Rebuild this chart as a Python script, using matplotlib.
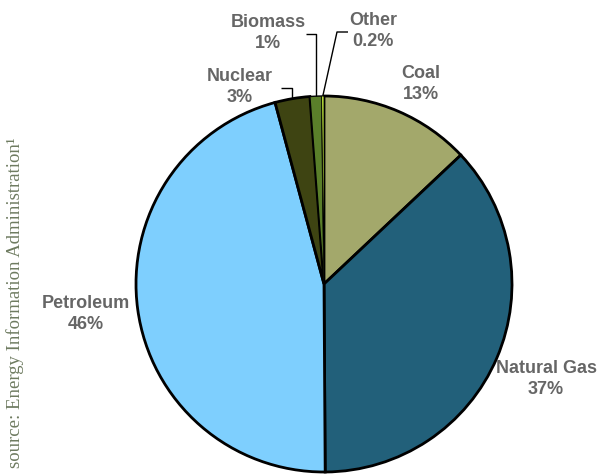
import numpy as np
import matplotlib
matplotlib.use("Agg")
import matplotlib.pyplot as plt

categories = ["Coal", "Natural Gas", "Petroleum", "Nuclear", "Biomass", "Other"]
values = [13, 37, 46, 3, 1, 0.2]
pct_labels = ["13%", "37%", "46%", "3%", "1%", "0.2%"]
colors = ["#A3A86B", "#22607A", "#7ECFFE", "#3E4412", "#5A7F2A", "#C8F040"]
source = "source: Energy Information Administration\u00b9"

W, H = 600, 474
CX, CY, R = 324, 284, 188

def px(x, y):
    return (x - CX) / R, (CY - y) / R

fig = plt.figure(figsize=(W / 100, H / 100), dpi=100)
ax = fig.add_axes([0, 0, 1, 1])
wedges, _ = ax.pie(values, colors=colors, startangle=90, counterclock=False,
                   radius=1.0,
                   wedgeprops=dict(edgecolor="black", linewidth=2))
wedges[4].set_linewidth(1.0)
wedges[5].set_linewidth(0.6)
ax.set_xlim(-CX / R, (W - CX) / R)
ax.set_ylim((CY - H) / R, CY / R)
ax.set_aspect("equal", adjustable="box")
ax.axis("off")

tcol = "#666666"
fkw = dict(family=["Liberation Sans", "DejaVu Sans"], fontsize=13, fontweight="bold",
           color=tcol, ha="center", va="center", linespacing=1.38)

# label anchor positions (pixels)
label_pos = {
    "Coal": (421, 84),
    "Natural Gas": (546, 379),
    "Petroleum": (86, 314),
    "Nuclear": (240, 87),
    "Biomass": (268, 33),
    "Other": (373, 31),
}
for cat, pl in zip(categories, pct_labels):
    x, y = px(*label_pos[cat])
    ax.text(x, y, f"{cat}\n{pl}", **fkw)

# leader lines for small slices
def edge_point(w):
    ang = np.deg2rad((w.theta1 + w.theta2) / 2)
    return np.cos(ang), np.sin(ang)

lkw = dict(color="black", linewidth=1, solid_capstyle="butt")
# Nuclear
ex, ey = edge_point(wedges[3])
_, y1 = px(0, 88)
x2, _ = px(281, 0)
ax.plot([ex, ex, x2], [ey, y1, y1], **lkw)
# Biomass
ex, ey = edge_point(wedges[4])
_, y1 = px(0, 34)
x2, _ = px(306, 0)
ax.plot([ex, ex, x2], [ey, y1, y1], **lkw)
# Other
ex, ey = edge_point(wedges[5])
xa, ya = px(337, 32)
xb, _ = px(348, 0)
ax.plot([ex, xa, xb], [ey, ya, ya], **lkw)

fig.text(15 / W, 1 - 303 / H, source, rotation=90, ha="center", va="center",
         family=["Liberation Serif", "DejaVu Serif"], fontsize=13.5, color="#6e7b60")

fig.savefig("out.png", dpi=100)
